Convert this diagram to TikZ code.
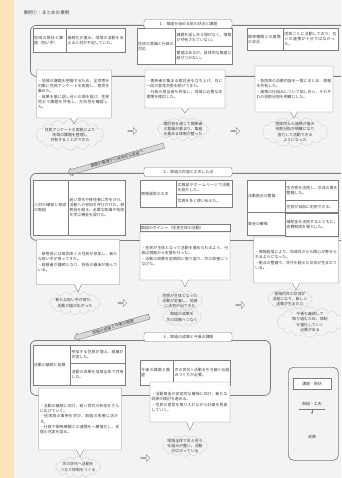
\documentclass[tikz,border=0pt]{standalone}
\usepackage{fontspec}
\setmainfont{Noto Sans CJK JP}
\XeTeXlinebreaklocale "ja"
\XeTeXlinebreakskip=0pt plus 1pt
\usetikzlibrary{arrows.meta,shapes.symbols,shapes.arrows,shapes.callouts}
\definecolor{pagebg}{HTML}{F3F3F1}
\definecolor{stripbg}{HTML}{FBE5B6}
\definecolor{linegray}{HTML}{7E7E7E}
\definecolor{inkgray}{HTML}{3E3E3E}
\newcommand{\txtsize}{\fontsize{3.9}{5.2}\selectfont}

\begin{document}
\begin{tikzpicture}[
  x=1pt, y=-1pt,
  frame/.style={draw=linegray, line width=0.8pt, rounded corners=6pt,
                anchor=north west, inner sep=0pt},
  head/.style={draw=linegray, fill=white, rounded corners=2pt,
               minimum width=88pt, minimum height=9pt, inner sep=0.5pt,
               font=\txtsize, text=inkgray},
  cell/.style 2 args={draw=linegray, fill=white, anchor=north west,
                      inner sep=1pt, text width=#1pt, minimum height=#2pt,
                      align=left, font=\txtsize, text=inkgray},
  note/.style={rectangle callout, draw=linegray, fill=white, inner sep=1.5pt,
               callout pointer width=7pt, align=left, font=\txtsize, text=inkgray},
  puff/.style={cloud, cloud puffs=16, aspect=3, draw=gray!35, inner sep=-2pt,
               align=center, font=\txtsize, text=inkgray},
  turn/.style={single arrow, draw=linegray, fill=white, minimum height=9pt,
               minimum width=7pt, single arrow head extend=1.5pt, inner sep=0pt},
  band/.style={single arrow, draw=linegray, fill=gray!30, minimum width=7pt,
               single arrow head extend=1.5pt, shape border rotate=180,
               inner sep=0.6pt, font=\txtsize, text=inkgray, rotate=16},
]
  \useasboundingbox (0,0) rectangle (341,478);
  \fill[pagebg] (0,0) rectangle (341,478);
  \fill[stripbg] (0,0) rectangle (14,478);
  \clip (0,0) rectangle (341,478);

  \node[anchor=west, font=\fontsize{4.6}{5.6}\selectfont, text=inkgray] (title)
    at (20,13) {事例①：まとめの事例};

  % section 1
  \node[frame, minimum width=340pt, minimum height=51pt] (frame1) at (30,25) {};
  \node[cell={31}{24}] (s1a1) at (33,28) {地域の現状と課題（担い手）};
  \node[cell={57}{24}] (s1a2) at (s1a1.north east)
    {高齢化が進み、地域の活動を支える人材が不足していた。};
  \node[cell={36}{36}] (s1b1) at (137,28) {住民の意識と行政の対応};
  \node[cell={55}{18}] (s1b2) at (s1b1.north east)
    {課題を話し合う場がなく、情報が共有されていない。};
  \node[cell={55}{18}] (s1b3) at (s1b2.south west)
    {要望はあるが、具体的な取組に結びつかない。};
  \node[cell={34}{22}] (s1c1) at (247,28) {関係機関との連携の状況};
  \node[cell={53}{22}] (s1c2) at (s1c1.north east)
    {団体ごとに活動しており、互いの連携が十分ではなかった。};
  \node[head] (head1) at (188,24) {１．取組を始める前の状況と課題};

  \node[note, text width=72pt, minimum height=48pt,
        callout absolute pointer={(74,124)}] (s1d) at (74,94)
    {・地域の課題を把握するため、全世帯を対象に住民アンケートを実施し、意見を集めた。\\
     ・結果を基に話し合いの場を設け、住民同士で課題を共有し、方向性を確認した。};
  \node[note, text width=77pt, minimum height=38pt,
        callout absolute pointer={(185,113)}] (s1e) at (185,89)
    {・関係者が集まる検討会を立ち上げ、月に一回の意見交換を続けてきた。\\
     ・行政の担当者も参加し、地域に必要な支援策を検討した。};
  \node[note, text width=75pt, minimum height=46pt,
        callout absolute pointer={(294,118)}] (s1f) at (294,89)
    {・各団体の活動内容を一覧にまとめ、情報を共有した。\\
     ・連携の仕組みについて話し合い、それぞれの役割分担を明確にした。};

  \node[puff] (c1g) at (70,135) {住民アンケートの実施により\\地域の課題を整理し\\共有することができた};
  \node[puff] (c1h) at (183,129) {検討会を通じて関係者\\の意識が高まり、取組\\を進める体制が整った};
  \node[puff] (c1i) at (295,132) {団体同士の連携が進み\\役割分担が明確になり\\協力して活動できる\\ようになった};
  \node[turn] (t1) at (132,131) {};
  \node[turn] (t2) at (235,131) {};

  \node[band, minimum height=100pt] (band1) at (117,159) {課題の整理から具体的な取組へ};

  % section 2
  \node[frame, minimum width=340pt, minimum height=67pt] (frame2) at (30,173) {};
  \node[cell={33}{55}] (s2a1) at (33,180) {人材の確保と育成の取組};
  \node[cell={55}{55}] (s2a2) at (s2a1.north east)
    {若い世代や移住者に声をかけ、活動への参加を呼びかけた。研修会を開き、必要な知識や技術を学ぶ機会を設けた。};
  \node[cell={34}{27}] (s2b1) at (140,180) {情報発信の工夫};
  \node[cell={54}{14}] (s2b2) at (s2b1.north east) {広報誌やホームページで活動を紹介した。};
  \node[cell={54}{13}] (s2b3) at (s2b2.south west) {写真を多く使い伝えた。};
  \node[cell={36}{32}] (s2c1) at (247,180) {活動拠点の整備};
  \node[cell={36}{23}] (s2c2) at (s2c1.south west) {資金の確保};
  \node[cell={51}{20}] (s2c3) at (s2c1.north east) {空き家を活用し、交流の場を整備した。};
  \node[cell={51}{12}] (s2c4) at (s2c3.south west) {住民が自由に利用できる。};
  \node[cell={51}{23}] (s2c5) at (s2c4.south west) {補助金を活用するとともに、会費制度を導入した。};
  \node[head] (head2) at (188,172) {２．取組の内容と工夫した点};

  \node[cell={88}{7}] (s2e1) at (140,224) {取組のポイント（住民主体の活動）};
  \node[note, text width=87pt, minimum height=48pt,
        callout absolute pointer={(185,287)}] (s2e) at (185,256)
    {・住民が主体となって活動を進められるよう、行政は側面から支援を行った。\\
     ・活動の成果を定期的に振り返り、次の改善につなげた。};
  \node[note, text width=80pt, minimum height=45pt,
        callout absolute pointer={(78,292)}] (s2d) at (78,262)
    {・研修会には毎回多くの住民が参加し、新たな担い手が育ってきた。\\
     ・経験者が講師となり、技術の継承が進んでいる。};
  \node[note, text width=82pt, minimum height=46pt,
        callout absolute pointer={(296,290)}] (s2f) at (296,260)
    {・情報発信により、地域外からも関心が寄せられるようになった。\\
     ・拠点の整備で、世代を超えた交流が生まれている。};

  \node[puff] (c2g) at (75,303) {新たな担い手が育ち、\\活動の幅が広がった};
  \node[puff] (c2h) at (180,301) {住民が主体となった\\活動が定着し、地域\\に活気が出てきた};
  \node[puff] (c2i) at (290,299) {地域内外の交流が\\活発になり、新しい\\活動が生まれた};
  \node[puff] (c2j) at (182,317) {取組の成果を\\次の段階へつなぐ};
  \node[puff] (c2k) at (310,322) {今後も継続して\\取り組むため、体制\\を強化していく\\必要がある};
  \node[turn] (t3) at (122,303) {};
  \node[turn] (t4) at (240,305) {};

  \node[band, minimum height=78pt] (band2) at (113,327) {取組の成果と今後の展開};

  % section 3
  \node[frame, minimum width=240pt, minimum height=55pt] (frame3) at (30,340) {};
  \node[cell={35}{40}] (s3a1) at (33,345) {活動の継続と発展};
  \node[cell={53}{18}] (s3a2) at (s3a1.north east) {参加する住民が増え、組織が充実した。};
  \node[cell={53}{22}] (s3a3) at (s3a2.south west) {活動の成果を地域全体で共有した。};
  \node[cell={31}{25}] (s3b1) at (140,360) {今後の課題と展望};
  \node[cell={55}{25}] (s3b2) at (s3b1.north east) {次の世代へ活動を引き継ぐ仕組みづくりが必要。};
  \node[head] (head3) at (188,337) {３．取組の成果と今後の課題};

  \node[note, text width=80pt, minimum height=62pt,
        callout absolute pointer={(80,457)}] (s3d) at (80,419)
    {・活動の継続に向け、若い世代の参加をさらに広げていく。\\
     ・他地域の事例を学び、取組の改善に活かす。\\
     ・行政や関係機関との連携を一層強化し、支援の充実を図る。};
  \node[note, text width=77pt, minimum height=40pt,
        callout absolute pointer={(190,430)}] (s3e) at (190,402)
    {・活動資金の安定的な確保に向け、新たな財源の検討を進める。\\
     ・住民の意見を取り入れながら計画を見直していく。};

  \node[puff] (c3h) at (185,446) {地域全体で支え合う\\仕組みが整い、活動\\が広がっている};
  \node[puff] (c3g) at (78,467) {次の世代へ活動を\\つなぐ体制をつくる};
  \node[turn] (t5) at (145,458) {};

  % legend
  \node[draw=linegray, line width=0.7pt, rounded corners=5pt, anchor=north west,
        minimum width=50pt, minimum height=93pt] (legend) at (288,367) {};
  \node[draw=linegray, fill=white, minimum width=38pt, minimum height=11pt,
        font=\txtsize, text=inkgray] (legtop) at (312,384) {課題・現状};
  \node[font=\txtsize, text=inkgray] (legmid) at (312,404) {取組・工夫};
  \coordinate (legtip) at (312,414);
  \draw[linegray] (legmid.south west) -- (legmid.south east);
  \draw[linegray, -{Stealth[length=2pt, width=2.5pt]}] (legmid.south) -- (legtip);
  \node[font=\txtsize, text=inkgray] (legbot) at (312,437) {成果};
\end{tikzpicture}
\end{document}
